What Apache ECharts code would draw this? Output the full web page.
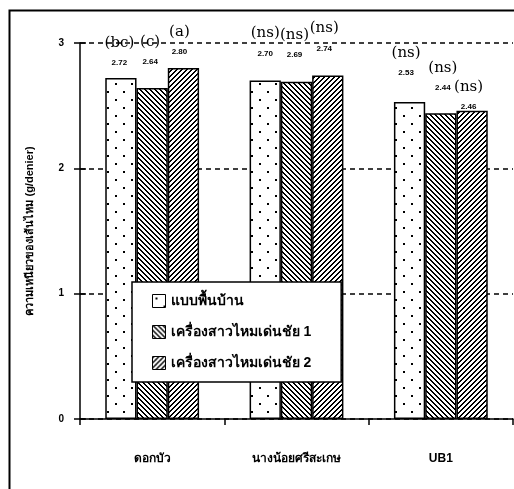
<!DOCTYPE html>
<html><head><meta charset="utf-8">
<script src="https://cdn.jsdelivr.net/npm/echarts@6/dist/echarts.min.js"></script>
<style>html,body{margin:0;padding:0;background:#fff}#c{width:514px;height:489px}</style>
</head><body><div id="c"></div>
<script>
const categories = ['ดอกบัว', 'นางน้อยศรีสะเกษ', 'UB1'];
const seriesNames = ['แบบพื้นบ้าน', 'เครื่องสาวไหมเด่นชัย 1', 'เครื่องสาวไหมเด่นชัย 2'];
const valsTraditional = [2.72, 2.70, 2.53];
const valsReel1 = [2.64, 2.69, 2.44];
const valsReel2 = [2.80, 2.74, 2.46];
const lettersTraditional = ['(bc)', '(ns)', '(ns)'];
const lettersReel1 = ['(c)', '(ns)', '(ns)'];
const lettersReel2 = ['(a)', '(ns)', '(ns)'];
const yTicks = [0, 1, 2, 3];

// label placement tweaks (style only)
const labelOffsets = [
  [[-1.5, -10], [0, -22], [-3.5, -24]],
  [[-2, -21], [-2, -22], [2, -20]],
  [[-4, -11], [-3.5, -22], [-3.5, 1]]
];

function makePattern(kind) {
  const n = kind === 'dots' ? 16 : 5;
  const c = document.createElement('canvas');
  c.width = n; c.height = n;
  const ctx = c.getContext('2d');
  ctx.fillStyle = '#fff'; ctx.fillRect(0, 0, n, n);
  ctx.fillStyle = '#000';
  if (kind === 'dots') {
    ctx.fillRect(3, 3, 2, 2);
    ctx.fillRect(11, 11, 2, 2);
  } else {
    for (let x = 0; x < n; x++) for (let y = 0; y < n; y++) {
      const d = kind === 'back' ? ((x - y + n) % n) : ((x + y) % n);
      if (d === 0 || d === 1) ctx.fillRect(x, y, 1, 1);
    }
  }
  return { image: c, repeat: 'repeat' };
}
const patterns = [makePattern('dots'), makePattern('back'), makePattern('fwd')];
const allVals = [valsTraditional, valsReel1, valsReel2];
const allLetters = [lettersTraditional, lettersReel1, lettersReel2];

const series = allVals.map((vals, si) => ({
  name: seriesNames[si],
  type: 'bar',
  barGap: '0%',
  barCategoryGap: '35%',
  itemStyle: { color: patterns[si], borderColor: '#000', borderWidth: 1.5 },
  data: vals.map((v, i) => ({
    value: v,
    label: { offset: labelOffsets[si][i] }
  })),
  label: {
    show: true,
    position: 'top',
    distance: 0,
    formatter: p => '{l|' + allLetters[si][p.dataIndex] + '}\n{v|' + p.value.toFixed(2) + '}',
    rich: {
      l: { fontFamily: 'DejaVu Serif', fontSize: 15, lineHeight: 30, color: '#000', verticalAlign: 'middle' },
      v: { fontFamily: 'Liberation Sans', fontSize: 8, fontWeight: 'bold', lineHeight: 10, color: '#000' }
    }
  }
}));

const chart = echarts.init(document.getElementById('c'), null, { renderer: 'canvas' });
chart.setOption({
  animation: false,
  backgroundColor: '#fff',
  grid: { left: 80, right: 1, top: 43, bottom: 70 },
  graphic: [{
    type: 'rect', left: 7, top: 8, z: -1,
    shape: { width: 520, height: 490 },
    style: { fill: 'none', stroke: '#000', lineWidth: 2 }
  }],
  legend: {
    orient: 'vertical', left: 132, top: 282,
    backgroundColor: '#fff', borderColor: '#000', borderWidth: 1.5,
    padding: [12, 30, 12, 20], itemGap: 17, itemWidth: 13, itemHeight: 13,
    icon: 'rect',
    textStyle: { fontSize: 14, color: '#000', fontWeight: 'bold' },
    itemStyle: { borderColor: '#000', borderWidth: 1 },
    data: seriesNames
  },
  xAxis: {
    type: 'category', data: categories,
    axisLine: { lineStyle: { color: '#000', width: 1.5 } },
    axisTick: { show: true, length: 6, lineStyle: { color: '#000', width: 1.5 } },
    axisLabel: { margin: 34, fontSize: 12, fontWeight: 'bold', color: '#000' }
  },
  yAxis: [{
    type: 'value', min: 0, max: 3, interval: 1,
    name: 'ความเหนียวของเส้นไหม (g/denier)', nameLocation: 'middle', nameGap: 45,
    nameTextStyle: { fontSize: 11, fontWeight: 'bold', color: '#000' },
    axisLine: { show: true, lineStyle: { color: '#000', width: 1.5 } },
    axisTick: { show: true, length: 6, lineStyle: { color: '#000', width: 1.5 } },
    axisLabel: { margin: 16, fontSize: 10, fontWeight: 'bold', color: '#000',
      formatter: v => yTicks.includes(v) ? String(v) : '' },
    splitLine: { show: true, lineStyle: { color: '#000', type: [5, 4], width: 1.5 } }
  }, {
    type: 'value', min: 0, max: 3, interval: 1, position: 'left',
    axisLine: { show: false },
    axisTick: { show: true, inside: true, length: 6, lineStyle: { color: '#000', width: 1.5 } },
    axisLabel: { show: false }, splitLine: { show: false }
  }],
  series: series
});
</script></body></html>
